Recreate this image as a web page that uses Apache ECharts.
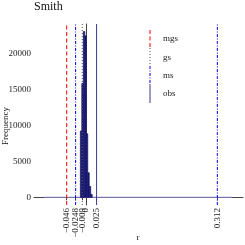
<!DOCTYPE html>
<html><head><meta charset="utf-8">
<script src="https://cdn.jsdelivr.net/npm/echarts@6/dist/echarts.min.js"></script>
<style>html,body{margin:0;padding:0;background:#fff}#c{width:245px;height:245px}</style>
</head><body><div id="c"></div>
<script>
// histogram bins (r) and frequencies
const binEdges = [-0.0135, -0.0100, -0.0065, -0.0030, 0.0005, 0.0040, 0.0075, 0.0110, 0.0145];
const counts = [9200, 15800, 23000, 22400, 8800, 3400, 1500, 400];
// reference statistics
const mgs = [-0.046];
const gs = [-0.009];
const ms = [-0.0248, 0.312];
const obs = [0.025];
const zeroLineX = [-0.100, 0.347];
const xTicks = [-0.046, -0.0248, -0.009, 0, 0.025, 0.312];
const yTicks = [0, 5000, 10000, 15000, 20000];

const FONT = 'Liberation Serif';
const Y_MIN = -1075, Y_MAX = 24050;
const histData = counts.map((c, i) => [binEdges[i], binEdges[i + 1], c]);
const fmtX = v => String(v).replace('-', '\u2212');

const statSeries = (name, vals, color, type) => vals.map(v => ({
  name: name, type: 'line', symbol: 'none', silent: true,
  data: [[v, Y_MIN], [v, Y_MAX]],
  lineStyle: { color: color, type: type, width: 1 },
  z: 4
}));

const chart = echarts.init(document.getElementById('c'), null, { renderer: 'canvas' });
chart.setOption({
  animation: false,
  backgroundColor: '#fff',
  grid: { left: 34, right: 2, top: 24, bottom: 40, containLabel: false },
  xAxis: {
    type: 'value', min: -0.1237, max: 0.373,
    splitLine: { show: false },
    axisLine: { show: true, lineStyle: { color: '#444', width: 1 } },
    axisTick: { show: true, length: 3, customValues: xTicks, lineStyle: { color: '#444' } },
    axisLabel: { customValues: xTicks, rotate: 90, margin: 3, fontFamily: FONT, fontSize: 9, color: '#222', formatter: fmtX }
  },
  yAxis: {
    type: 'value', min: Y_MIN, max: Y_MAX,
    splitLine: { show: false },
    axisLine: { show: true, lineStyle: { color: '#444', width: 1 } },
    axisTick: { show: true, length: 3, customValues: yTicks, lineStyle: { color: '#444' } },
    axisLabel: { customValues: yTicks, margin: 3, fontFamily: FONT, fontSize: 9, color: '#222', formatter: v => String(v) }
  },
  series: [
    {
      type: 'custom',
      data: histData,
      renderItem: function (params, api) {
        const p0 = api.coord([api.value(0), 0]);
        const p1 = api.coord([api.value(1), api.value(2)]);
        return { type: 'rect', shape: { x: p0[0], y: p1[1], width: p1[0] - p0[0], height: p0[1] - p1[1] },
          style: { fill: '#191970', stroke: '#191970', lineWidth: 0.8 } };
      },
      z: 3
    },
    {
      type: 'line',
      data: zeroLineX.map(x => [x, 0]),
      symbol: 'none',
      lineStyle: { color: '#8585c8', width: 1 },
      z: 2
    }
  ].concat(
    statSeries('mgs', mgs, '#ff0000', [4, 2.5]),
    statSeries('gs', gs, '#555555', [1, 2]),
    statSeries('ms', ms, '#0000ff', [3, 1.5, 1, 1.5]),
    statSeries('obs', obs, '#3b3b8f', 'solid')
  ),
  graphic: [
    { type: 'text', left: 34, top: 1, style: { text: 'Smith', font: '12px "Liberation Serif"', fill: '#111' } },
    { type: 'text', x: 138, y: 238, style: { text: 'r', font: '9px "Liberation Serif"', fill: '#111', align: 'center', verticalAlign: 'middle' } },
    { type: 'text', x: 6, y: 126, rotation: Math.PI / 2, style: { text: 'Frequency', font: '9px "Liberation Serif"', fill: '#111', align: 'center', verticalAlign: 'middle' } },
    { type: 'line', shape: { x1: 150, y1: 30, x2: 150, y2: 48 }, style: { stroke: '#ff0000', lineWidth: 1, lineDash: [4, 2.5] } },
    { type: 'line', shape: { x1: 150, y1: 48, x2: 150, y2: 66 }, style: { stroke: '#555555', lineWidth: 1, lineDash: [1, 2] } },
    { type: 'line', shape: { x1: 150, y1: 66, x2: 150, y2: 84 }, style: { stroke: '#0000ff', lineWidth: 1, lineDash: [3, 1.5, 1, 1.5] } },
    { type: 'line', shape: { x1: 150, y1: 84, x2: 150, y2: 103 }, style: { stroke: '#3b3b8f', lineWidth: 1 } },
    { type: 'text', x: 163, y: 39, style: { text: 'mgs', font: '9px "Liberation Serif"', fill: '#222', verticalAlign: 'middle' } },
    { type: 'text', x: 163, y: 58, style: { text: 'gs', font: '9px "Liberation Serif"', fill: '#222', verticalAlign: 'middle' } },
    { type: 'text', x: 163, y: 76, style: { text: 'ms', font: '9px "Liberation Serif"', fill: '#222', verticalAlign: 'middle' } },
    { type: 'text', x: 163, y: 94, style: { text: 'obs', font: '9px "Liberation Serif"', fill: '#222', verticalAlign: 'middle' } }
  ]
});
</script></body></html>
